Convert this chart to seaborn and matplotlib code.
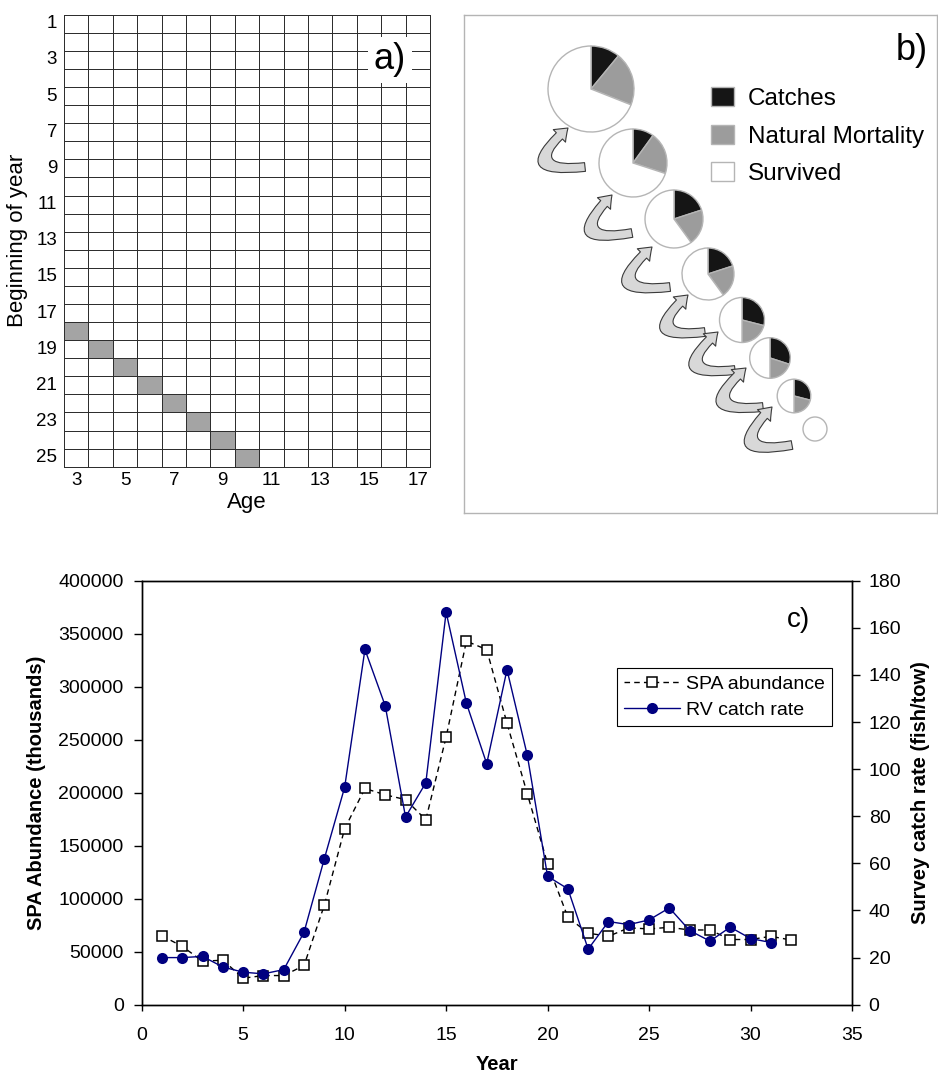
import numpy as np
import pandas as pd
import matplotlib
matplotlib.use("Agg")
import matplotlib.pyplot as plt
from matplotlib.colors import ListedColormap
from matplotlib.patches import FancyArrowPatch
from matplotlib.ticker import StrMethodFormatter
import seaborn as sns

# ---------------- data ----------------
# a) year-by-age grid with one cohort followed through time
grid_years = list(range(1, 26))
grid_ages = list(range(3, 18))
cohort_years = [18, 19, 20, 21, 22, 23, 24, 25]
cohort_ages = [3, 4, 5, 6, 7, 8, 9, 10]

# b) fate of the cohort each year (fractions of numbers at the start of the year)
fate_labels = ["Catches", "Natural Mortality", "Survived"]
catch_frac = [0.11, 0.10, 0.20, 0.20, 0.29, 0.30, 0.29, 0.00]
natural_frac = [0.20, 0.20, 0.20, 0.20, 0.21, 0.20, 0.21, 0.00]

# c) SPA abundance (thousands) and RV survey catch rate (fish/tow)
spa_years = list(range(1, 33))
spa_abundance = [65000, 55000, 41000, 42000, 25000, 27500, 27500, 37000,
                 94000, 166000, 204000, 198000, 193500, 174500, 252500, 343000,
                 335000, 265500, 199000, 133000, 82500, 67500, 64500, 72500,
                 71500, 73000, 70500, 70500, 61500, 61500, 64500, 61000]
rv_years = list(range(1, 32))
rv_catch_rate = [20.0, 20.0, 20.5, 16.0, 13.8, 13.1, 14.9, 30.8,
                 62.0, 92.3, 150.8, 126.9, 79.7, 94.2, 166.6, 128.0,
                 102.3, 142.2, 105.9, 54.5, 49.2, 23.6, 35.3, 34.0,
                 36.0, 41.1, 31.5, 27.0, 32.9, 28.1, 26.4]

# ---------------- layout (pixels) ----------------
FIG_W, FIG_H = 938, 1078
pie_centres = [(591, 89), (633, 163), (674, 219), (708, 274),
               (742, 320), (770, 358), (794, 396), (815, 429)]
pie_radii = [43, 34, 29, 26, 22.5, 20.3, 16.8, 12]
arrow_ends = [((585, 167), (568, 128)), ((632, 233), (612, 195)),
              ((670, 287), (652, 247)), ((705, 332), (688, 295)),
              ((735, 370), (718, 332)), ((763, 407), (746, 368)),
              ((792, 445), (772, 407))]


def frame(x0, y0, x1, y1):
    return [x0 / FIG_W, 1 - y1 / FIG_H, (x1 - x0) / FIG_W, (y1 - y0) / FIG_H]


sns.set_style("ticks")
plt.rcParams["font.family"] = ["Liberation Sans", "DejaVu Sans"]
for key in ["text.color", "axes.labelcolor", "xtick.color", "ytick.color", "axes.edgecolor"]:
    plt.rcParams[key] = "black"

fig = plt.figure(figsize=(FIG_W / 100, FIG_H / 100), dpi=100)

# ---------------- a) cohort grid ----------------
grid = pd.DataFrame(0, index=grid_years, columns=grid_ages)
for yr, age in zip(cohort_years, cohort_ages):
    grid.loc[yr, age] = 1

ax_a = fig.add_axes(frame(64, 14.7, 430, 466.7))
sns.heatmap(grid, ax=ax_a, cmap=ListedColormap(["white", "#a4a4a4"]),
            vmin=0, vmax=1, cbar=False, linewidths=0.7, linecolor="#2e2e2e",
            xticklabels=2, yticklabels=2)
ax_a.collections[0].set_clip_on(False)
ax_a.tick_params(axis="both", length=0, labelsize=13.5)
ax_a.tick_params(axis="y", pad=5)
ax_a.tick_params(axis="x", pad=4)
plt.setp(ax_a.get_xticklabels(), rotation=0)
plt.setp(ax_a.get_yticklabels(), rotation=0)
ax_a.set_xlabel("Age", fontsize=16, labelpad=2)
ax_a.set_ylabel("Beginning of year", fontsize=16, labelpad=6)
ax_a.text(13.36, 2.5, "a)", fontsize=26, ha="center", va="center",
          bbox=dict(boxstyle="square,pad=0.15", fc="white", ec="none"))

# ---------------- b) cohort fate pies ----------------
ax_b = fig.add_axes(frame(464, 15, 937, 513))
fate_colours = ["#151515", "#9c9c9c", "white"]

legend_wedges = None
for (cx, cy), r, c, n in zip(pie_centres, pie_radii, catch_frac, natural_frac):
    fr = [c, n, 1 - c - n]
    keep = [i for i, v in enumerate(fr) if v > 0]
    wedges, _ = ax_b.pie([fr[i] for i in keep], center=(cx, FIG_H - cy), radius=r,
                         startangle=90, counterclock=False, frame=True,
                         colors=[fate_colours[i] for i in keep],
                         wedgeprops=dict(edgecolor="#b5b5b5", linewidth=1.0))
    for w in wedges:
        w.set_zorder(3)
    if legend_wedges is None:
        legend_wedges = wedges

for (tx, ty), (hx, hy) in arrow_ends:
    arr = FancyArrowPatch((tx, FIG_H - ty), (hx, FIG_H - hy),
                          connectionstyle="arc3,rad=-1.6",
                          arrowstyle="simple,head_length=0.6,head_width=0.9,tail_width=0.45",
                          mutation_scale=14, fc="#d8d8d8", ec="#3a3a3a", lw=0.8,
                          shrinkA=0, shrinkB=0, zorder=2)
    ax_b.add_patch(arr)

ax_b.set_xlim(464, 937)
ax_b.set_ylim(FIG_H - 513, FIG_H - 15)
ax_b.set_aspect("auto")
ax_b.set_xticks([])
ax_b.set_yticks([])
for sp in ax_b.spines.values():
    sp.set_color("#b4b4b4")
    sp.set_linewidth(1.0)
ax_b.legend(legend_wedges, fate_labels, loc="upper left", bbox_to_anchor=(0.522, 0.855),
            frameon=False, fontsize=17.5, handlelength=0.95, handleheight=0.82,
            handletextpad=0.58, labelspacing=0.6, borderpad=0, borderaxespad=0)
ax_b.text(912, FIG_H - 50, "b)", fontsize=26, ha="center", va="center")

# ---------------- c) time series ----------------
ax_c = fig.add_axes(frame(141.7, 580.7, 852, 1004.7))
ax_r = ax_c.twinx()

sns.lineplot(x=spa_years, y=spa_abundance, ax=ax_c, errorbar=None, legend=False,
             color="black", linestyle=(0, (4, 3)), linewidth=1.0,
             marker="s", markersize=7.5, markerfacecolor="white",
             markeredgecolor="black", markeredgewidth=1.1, label="SPA abundance")
sns.lineplot(x=rv_years, y=rv_catch_rate, ax=ax_r, errorbar=None, legend=False,
             color="#000080", linewidth=1.0, marker="o", markersize=8,
             markerfacecolor="#000080", markeredgecolor="#000080",
             markeredgewidth=0, label="RV catch rate")

ax_c.set_xlim(0, 35)
ax_c.set_ylim(0, 400000)
ax_r.set_ylim(0, 180)
ax_c.set_xticks(range(0, 36, 5))
ax_c.set_yticks(range(0, 400001, 50000))
ax_r.set_yticks(range(0, 181, 20))
ax_c.yaxis.set_major_formatter(StrMethodFormatter("{x:.0f}"))

for sp in list(ax_c.spines.values()) + list(ax_r.spines.values()):
    sp.set_linewidth(1.0)
    sp.set_color("black")
ax_c.tick_params(axis="x", length=4, width=1, pad=12, labelsize=14)
ax_c.tick_params(axis="y", length=6, width=1, pad=7, labelsize=14)
ax_r.tick_params(axis="y", length=6, width=1, pad=6, labelsize=14)

ax_c.set_xlabel("Year", fontsize=14.5, fontweight="bold", labelpad=8)
ax_c.set_ylabel("SPA Abundance (thousands)", fontsize=14.5, fontweight="bold", labelpad=9)
ax_r.set_ylabel("Survey catch rate (fish/tow)", fontsize=14.5, fontweight="bold", labelpad=7)

h1, l1 = ax_c.get_legend_handles_labels()
h2, l2 = ax_r.get_legend_handles_labels()
leg = ax_r.legend(h1 + h2, l1 + l2, loc="upper left", bbox_to_anchor=(0.669, 0.793),
                  borderaxespad=0, fontsize=14, frameon=True, fancybox=False,
                  edgecolor="black", framealpha=1, handlelength=2.9,
                  handletextpad=0.3, borderpad=0.35, labelspacing=0.45)
leg.get_frame().set_linewidth(0.8)
ax_c.text(0.925, 0.907, "c)", transform=ax_c.transAxes, fontsize=20,
          ha="center", va="center")

fig.savefig("out.png", dpi=100)
